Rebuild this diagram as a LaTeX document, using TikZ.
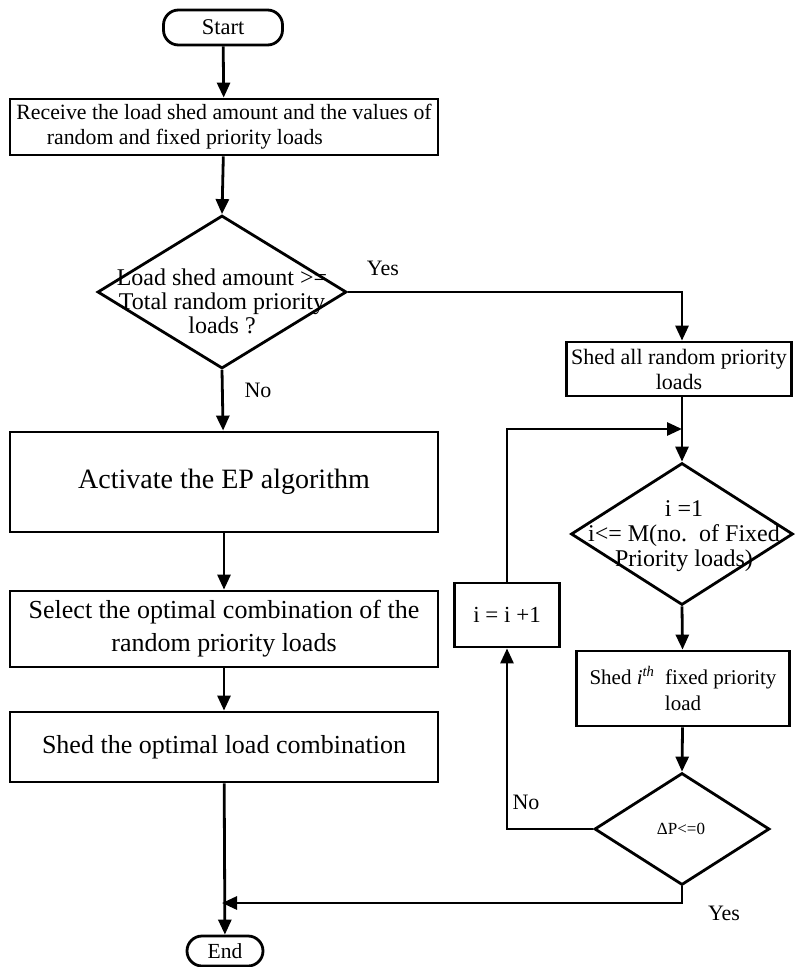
\documentclass[tikz,border=0pt]{standalone}
\usepackage{fontspec}
\setmainfont{Liberation Serif}
\usetikzlibrary{shapes.geometric,arrows.meta}
\newcommand{\fs}[2]{\fontsize{#1}{#2}\selectfont}
\begin{document}
\begin{tikzpicture}[x=1pt,y=-1pt,
 every node/.style={font=\fs{21}{25}},
 box/.style={draw,line width=2.8pt,rectangle,inner sep=0pt,align=center},
 term/.style={draw,line width=2.8pt,rounded corners=15pt,inner sep=0pt},
 dec/.style={draw,line width=2.8pt,diamond,inner sep=0pt},
 dtext/.style={inner sep=0pt,align=center},
 conn/.style={line width=2.8pt,-{Triangle[length=15pt,width=13pt]}},
 lbl/.style={inner sep=0pt,font=\fs{22}{26}}]
\useasboundingbox (0,0) rectangle (795,967);
\node[term,minimum width=119,minimum height=35,font=\fs{22.5}{26}] (start) at (223,27.5) {Start};
\node[box,minimum width=428,minimum height=56,align=left,font=\fs{21.8}{25}] (recv) at (224,127) {Receive the load shed amount and the values of\\\hspace*{1.4em}random and fixed priority loads};
\node[dec,minimum width=249,minimum height=153] (d1) at (222,292) {};
\node[dtext,font=\fs{24}{24}] (d1t) at (222,301) {Load shed amount >=\\Total random priority\\loads ?};
\node[box,minimum width=428,minimum height=100,font=\fs{28}{32}] (ep) at (224,482) {Activate the EP algorithm};
\node[box,minimum width=428,minimum height=76,font=\fs{26}{33}] (sel) at (224,629) {Select the optimal combination of the\\random priority loads};
\node[box,minimum width=428,minimum height=70,font=\fs{26}{30}] (opt) at (224,747) {Shed the optimal load combination};
\node[term,minimum width=76,minimum height=30,font=\fs{21.5}{25}] (end) at (225,951) {End};
\node[box,minimum width=225,minimum height=54,font=\fs{22}{25}] (shall) at (679,369) {Shed all random priority\\loads};
\node[dec,minimum width=222,minimum height=142] (d2) at (682,534) {};
\node[dtext,font=\fs{24}{25}] (d2t) at (684,536) {i =1\\i<= M(no.\ \ of Fixed\\Priority loads)};
\node[box,minimum width=213,minimum height=75,font=\fs{21}{26}] (shi) at (683,688.5) {Shed \textit{i}\textsuperscript{\textit{th}}\ \ fixed priority\\load};
\node[dec,minimum width=175,minimum height=112] (dp) at (682,829) {};
\node[dtext,font=\fs{17}{20}] (dpt) at (681,829) {ΔP<=0};
\node[box,minimum width=105,minimum height=64,font=\fs{23}{26}] (inc) at (507,615) {i = i +1};
\coordinate (jn) at (682,429);
\coordinate (jn2) at (222,903);
\node[lbl] (yes1) at (383,268) {Yes};
\node[lbl] (no1) at (258,390) {No};
\node[lbl] (no2) at (526,802) {No};
\node[lbl] (yes2) at (724,913) {Yes};
\draw[conn] (start) -- (recv);
\draw[conn] (recv) -- (d1.north);
\draw[conn] (d1.east) -| (shall.north -| d2.north);
\draw[conn] (d1.south) -- (ep);
\draw[conn] (ep) -- (sel);
\draw[conn] (sel) -- (opt);
\draw[conn] (opt) -- (end);
\draw[conn] (shall.south -| d2.north) -- (d2.north);
\draw[conn] (inc.north) |- (jn);
\draw[conn] (d2.south) -- (shi);
\draw[conn] (shi) -- (dp.north);
\draw[conn] (dp.west) -| (inc.south);
\draw[conn] (dp.south) |- (jn2);
\end{tikzpicture}
\end{document}
